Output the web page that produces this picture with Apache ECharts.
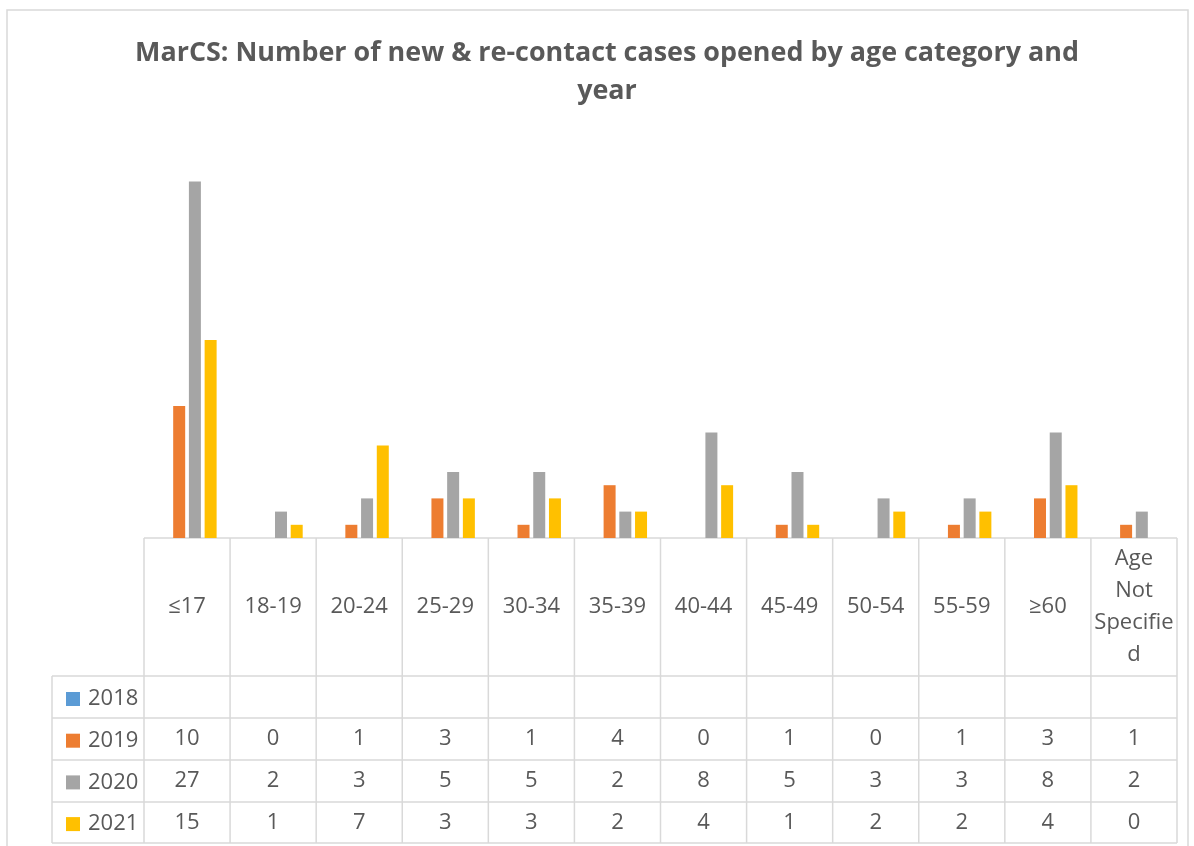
<!DOCTYPE html>
<html>
<head>
<meta charset="utf-8">
<script src="https://cdn.jsdelivr.net/npm/echarts@6/dist/echarts.min.js"></script>
<style>
  html, body { margin: 0; padding: 0; background: #fff; }
  #chart { width: 1194px; height: 846px; }
</style>
</head>
<body>
<div id="chart"></div>
<script>
// age categories (as wrapped in the data table)
var categories = ['≤17', '18-19', '20-24', '25-29', '30-34', '35-39', '40-44', '45-49', '50-54', '55-59', '≥60', 'Age\nNot\nSpecifie\nd'];
var years = ['2018', '2019', '2020', '2021'];
var cases2018 = [null, null, null, null, null, null, null, null, null, null, null, null];
var cases2019 = [10, 0, 1, 3, 1, 4, 0, 1, 0, 1, 3, 1];
var cases2020 = [27, 2, 3, 5, 5, 2, 8, 5, 3, 3, 8, 2];
var cases2021 = [15, 1, 7, 3, 3, 2, 4, 1, 2, 2, 4, 0];
var colors = ['#5B9BD5', '#ED7D31', '#A5A5A5', '#FFC000'];

var textColor = '#595959';
var lineColor = '#d9d9d9';
var font = 'Open Sans';

// layout of plot + data table
var gridLeft = 144, gridRight = 1177, axisY = 538;
var rowLines = [676, 718, 760, 802, 843];
var legendLeft = 52;

var chart = echarts.init(document.getElementById('chart'));

var rows = [cases2018, cases2019, cases2020, cases2021];

// one category axis per table row; labels placed at the row's middle
function rowAxis(values, mid) {
  return {
    type: 'category',
    gridIndex: 0,
    position: 'bottom',
    data: categories,
    axisLine: { show: false },
    axisTick: { show: false },
    splitLine: { show: false },
    axisLabel: {
      interval: 0,
      hideOverlap: false,
      margin: mid - axisY,
      verticalAlign: 'middle',
      color: textColor,
      fontFamily: font,
      fontSize: 22,
      lineHeight: 32,
      formatter: values ? function (v, i) { var x = values[i]; return x == null ? '' : String(x); } : undefined
    }
  };
}

var xAxes = [rowAxis(null, (axisY + rowLines[0]) / 2)];
for (var r = 0; r < years.length; r++) {
  xAxes.push(rowAxis(rows[r], (rowLines[r] + rowLines[r + 1]) / 2));
}

// table lines
var graphics = [];
var colW = (gridRight - gridLeft) / categories.length;
for (var c = 0; c <= categories.length; c++) {
  var x = gridLeft + c * colW;
  graphics.push({ type: 'line', shape: { x1: x, y1: axisY, x2: x, y2: rowLines[rowLines.length - 1] },
    style: { stroke: lineColor, lineWidth: 1.5 }, silent: true });
}
graphics.push({ type: 'line', shape: { x1: gridLeft, y1: axisY, x2: gridRight, y2: axisY },
  style: { stroke: lineColor, lineWidth: 1.5 }, silent: true });
rowLines.forEach(function (y) {
  graphics.push({ type: 'line', shape: { x1: legendLeft, y1: y, x2: gridRight, y2: y },
    style: { stroke: lineColor, lineWidth: 1.5 }, silent: true });
});
graphics.push({ type: 'line', shape: { x1: legendLeft, y1: rowLines[0], x2: legendLeft, y2: rowLines[rowLines.length - 1] },
  style: { stroke: lineColor, lineWidth: 1.5 }, silent: true });
// outer chart border
graphics.push({ type: 'rect', shape: { x: 7, y: 10, width: 1181, height: 900 },
  style: { fill: 'none', stroke: lineColor, lineWidth: 1.5 }, silent: true });

chart.setOption({
  animation: false,
  color: colors,
  title: {
    text: 'MarCS: Number of new & re-contact cases opened by age category and\nyear',
    left: 607,
    top: 34,
    padding: 0,
    textAlign: 'center',
    textStyle: { color: textColor, fontFamily: font, fontSize: 26.9, fontWeight: 'bold', lineHeight: 38 }
  },
  legend: {
    orient: 'vertical',
    left: 61,
    top: 683,
    itemWidth: 14,
    itemHeight: 14,
    itemGap: 19.7,
    icon: 'rect',
    selectedMode: false,
    data: years,
    textStyle: { color: textColor, fontFamily: font, fontSize: 22, lineHeight: 22, padding: [0, 0, 0, 3] }
  },
  grid: { left: gridLeft, right: 1194 - gridRight, top: 142, bottom: 846 - axisY, containLabel: false },
  xAxis: xAxes,
  yAxis: { type: 'value', min: 0, max: 30, show: false, splitLine: { show: false } },
  series: years.map(function (y, i) {
    return {
      name: y,
      type: 'bar',
      xAxisIndex: 0,
      data: rows[i],
      barWidth: 12,
      barGap: '31%',
      itemStyle: { color: colors[i] }
    };
  }),
  graphic: graphics
});
</script>
</body>
</html>
